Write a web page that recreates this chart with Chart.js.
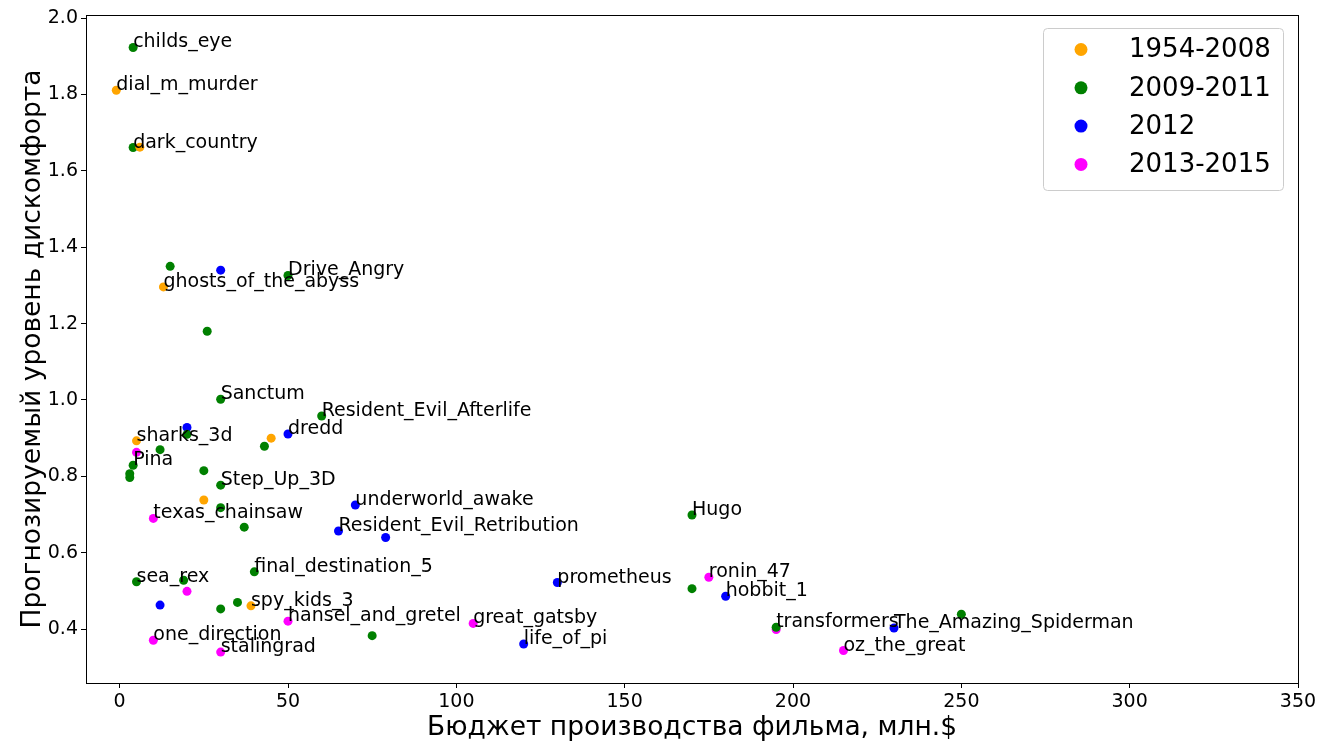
<!DOCTYPE html>
<html>
<head>
<meta charset="utf-8">
<script src="https://cdn.jsdelivr.net/npm/chart.js@4/dist/chart.umd.min.js"></script>
<style>
  html, body { margin: 0; padding: 0; background: #fff; }
  #wrap { width: 1336px; height: 745px; }
</style>
</head>
<body>
<div id="wrap"><canvas id="scatterChart" width="1336" height="745"></canvas></div>
<script>
// Data: budget (mln $) vs predicted discomfort
const groupNames = ['1954-2008', '2009-2011', '2012', '2013-2015'];
const groupColors = ['#ffa500', '#008000', '#0000ff', '#ff00ff'];

const budget1954 = [-1, 6, 13, 5, 45, 25, 39];
const score1954 = [1.811, 1.662, 1.296, 0.893, 0.900, 0.738, 0.461];
const names1954 = ['dial_m_murder', '', 'ghosts_of_the_abyss', 'sharks_3d', '', '', 'spy_kids_3'];

const budget2009 = [4, 4, 15, 50, 26, 30, 60, 20, 12, 43, 4, 3, 3, 25, 30, 30, 37, 40, 5, 19, 35, 30, 75, 170, 170, 195, 250];
const score2009 = [1.923, 1.661, 1.350, 1.326, 1.180, 1.002, 0.958, 0.910, 0.870, 0.879, 0.829, 0.807, 0.797, 0.815, 0.777, 0.718, 0.667, 0.550, 0.524, 0.528, 0.470, 0.453, 0.383, 0.699, 0.506, 0.405, 0.439];
const names2009 = ['childs_eye', 'dark_country', '', 'Drive_Angry', '', 'Sanctum', 'Resident_Evil_Afterlife', '', '', '', 'Pina', '', '', '', 'Step_Up_3D', '', '', 'final_destination_5', 'sea_rex', '', '', '', '', 'Hugo', '', 'transformers', ''];

const budget2012 = [30, 20, 50, 70, 65, 79, 12, 130, 180, 120, 230];
const score2012 = [1.340, 0.928, 0.911, 0.725, 0.657, 0.640, 0.463, 0.522, 0.486, 0.361, 0.403];
const names2012 = ['', '', 'dredd', 'underworld_awake', 'Resident_Evil_Retribution', '', '', 'prometheus', 'hobbit_1', 'life_of_pi', 'The_Amazing_Spiderman'];

const budget2013 = [5, 10, 20, 50, 105, 10, 30, 175, 195, 215];
const score2013 = [0.863, 0.690, 0.499, 0.421, 0.415, 0.371, 0.340, 0.536, 0.399, 0.344];
const names2013 = ['', 'texas_chainsaw', '', 'hansel_and_gretel', 'great_gatsby', 'one_direction', 'stalingrad', 'ronin_47', '', 'oz_the_great'];

const xTicks = [0, 50, 100, 150, 200, 250, 300, 350];
const yTicks = [0.4, 0.6, 0.8, 1.0, 1.2, 1.4, 1.6, 1.8, 2.0];

const xTitle = 'Бюджет производства фильма, млн.$';
const yTitle = 'Прогнозируемый уровень дискомфорта';

const allBudgets = [budget1954, budget2009, budget2012, budget2013];
const allScores = [score1954, score2009, score2012, score2013];
const allNames = [names1954, names2009, names2012, names2013];

Chart.defaults.font.family = "'DejaVu Sans', sans-serif";
Chart.defaults.color = '#000';

const datasets = groupNames.map((name, g) => ({
    label: name,
    data: allBudgets[g].map((x, i) => ({ x: x, y: allScores[g][i], name: allNames[g][i] })),
    backgroundColor: groupColors[g],
    borderWidth: 0,
    pointRadius: 4.5,
    pointHoverRadius: 4.5
}));

// frame around the plot + film names next to the points
const labelsPlugin = {
    id: 'filmLabels',
    afterDatasetsDraw(chart) {
        const ctx = chart.ctx;
        const area = chart.chartArea;
        ctx.save();
        ctx.font = "19px 'DejaVu Sans'";
        ctx.fillStyle = '#000';
        ctx.textAlign = 'left';
        ctx.textBaseline = 'alphabetic';
        chart.data.datasets.forEach((ds, di) => {
            const meta = chart.getDatasetMeta(di);
            ds.data.forEach((pt, i) => {
                if (!pt.name) return;
                const el = meta.data[i];
                ctx.fillText(pt.name, el.x, el.y);
            });
        });
        ctx.strokeStyle = '#000';
        ctx.lineWidth = 1;
        ctx.strokeRect(area.left + 0.5, area.top + 0.5, area.right - area.left, area.bottom - area.top);
        ctx.restore();
    }
};

// matplotlib-style legend in the upper right corner
const legendPlugin = {
    id: 'boxLegend',
    afterDraw(chart) {
        const ctx = chart.ctx;
        const left = 1043, top = 28, w = 240, h = 162;
        ctx.save();
        ctx.beginPath();
        ctx.roundRect(left + 0.5, top + 0.5, w, h, 4);
        ctx.fillStyle = 'rgba(255,255,255,0.8)';
        ctx.fill();
        ctx.strokeStyle = '#cccccc';
        ctx.lineWidth = 1;
        ctx.stroke();
        ctx.font = "26px 'DejaVu Sans'";
        ctx.textBaseline = 'middle';
        ctx.textAlign = 'left';
        chart.data.datasets.forEach((ds, i) => {
            const cy = 49.5 + i * 38.3;
            ctx.beginPath();
            ctx.arc(1081, cy, 6.5, 0, Math.PI * 2);
            ctx.fillStyle = ds.backgroundColor;
            ctx.fill();
            ctx.fillStyle = '#000';
            ctx.fillText(ds.label, 1129, cy + 1);
        });
        ctx.restore();
    }
};

const ctx = document.getElementById('scatterChart').getContext('2d');
const chart = new Chart(ctx, {
    type: 'scatter',
    data: { datasets: datasets },
    options: {
        responsive: false,
        animation: false,
        events: [],
        layout: { padding: { left: 0, top: 15, right: 38, bottom: 0 } },
        plugins: {
            legend: { display: false },
            tooltip: { enabled: false }
        },
        scales: {
            x: {
                type: 'linear',
                min: -10,
                max: 350,
                afterBuildTicks: (scale) => { scale.ticks = xTicks.map(v => ({ value: v })); },
                afterFit: (scale) => { scale.height = 62; },
                ticks: { font: { size: 19 }, color: '#000', padding: 3, maxRotation: 0 },
                grid: { drawOnChartArea: false, drawTicks: true, tickLength: 5, color: '#000' },
                border: { display: false },
                title: { display: true, text: xTitle, font: { size: 26.5 }, color: '#000', padding: { top: 0, bottom: 1 } }
            },
            y: {
                type: 'linear',
                min: 0.259,
                max: 2.008,
                afterBuildTicks: (scale) => { scale.ticks = yTicks.map(v => ({ value: v })); },
                afterFit: (scale) => { scale.width = 86; },
                ticks: { font: { size: 19 }, color: '#000', padding: 3, callback: (v) => v.toFixed(1) },
                grid: { drawOnChartArea: false, drawTicks: true, tickLength: 5, color: '#000' },
                border: { display: false },
                title: { display: true, text: yTitle, font: { size: 26.5 }, color: '#000', padding: { top: 17, bottom: 0 } }
            }
        }
    },
    plugins: [labelsPlugin, legendPlugin]
});
</script>
</body>
</html>
